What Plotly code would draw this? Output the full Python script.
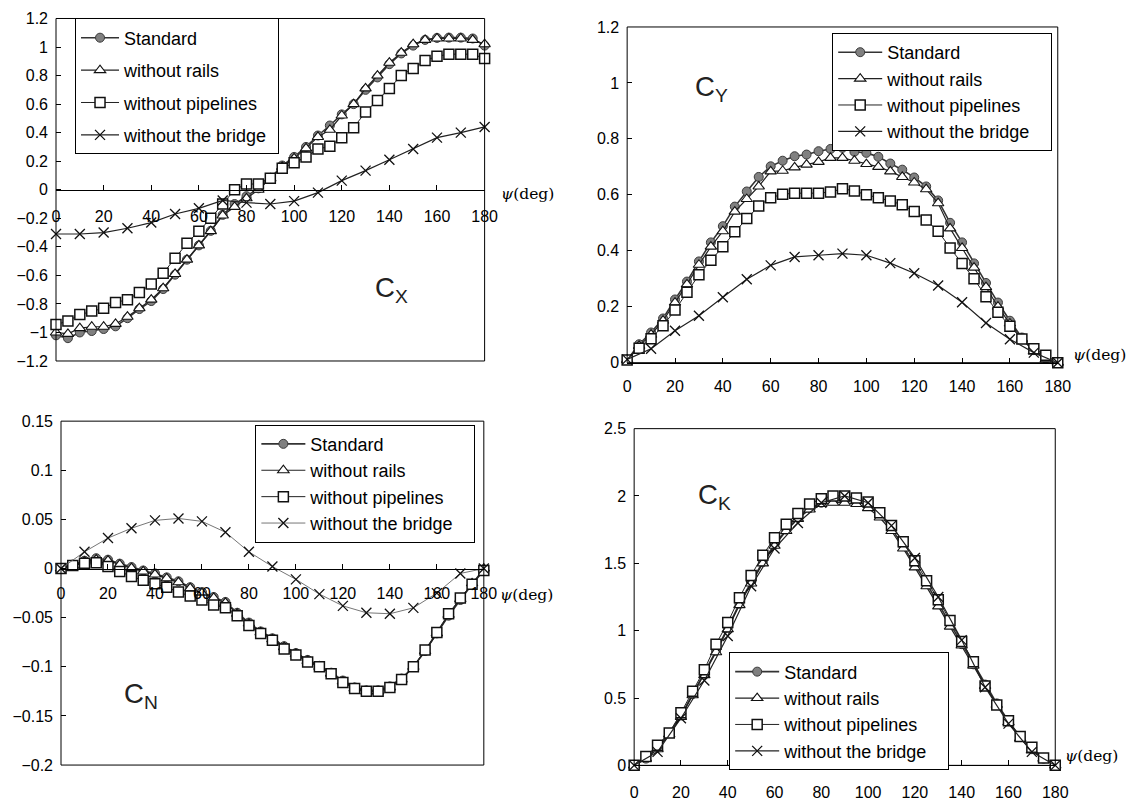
import plotly.graph_objects as go

# ---------------- data ----------------
PSI_5 = [0, 5, 10, 15, 20, 25, 30, 35, 40, 45, 50, 55, 60, 65, 70, 75, 80, 85, 90,
         95, 100, 105, 110, 115, 120, 125, 130, 135, 140, 145, 150, 155, 160, 165, 170, 175, 180]
PSI_10 = [0, 10, 20, 30, 40, 50, 60, 70, 80, 90, 100, 110, 120, 130, 140, 150, 160, 170, 180]

SERIES = ["Standard", "without rails", "without pipelines", "without the bridge"]

# C_X
CX_STD = [-1.02, -1.04, -1.0, -0.99, -0.976, -0.957, -0.9, -0.836, -0.78, -0.696, -0.595, -0.49, -0.39,
          -0.288, -0.176, -0.1, -0.045, 0.01, 0.08, 0.17, 0.23, 0.3, 0.38, 0.45, 0.528, 0.6, 0.7, 0.787,
          0.88, 0.955, 1.01, 1.05, 1.064, 1.066, 1.066, 1.06, 1.01]
CX_RAILS = [-1.0, -1.01, -0.97, -0.96, -0.96, -0.94, -0.89, -0.83, -0.77, -0.69, -0.59, -0.49, -0.39,
            -0.29, -0.18, -0.12, -0.06, 0.0, 0.08, 0.16, 0.22, 0.29, 0.37, 0.42, 0.52, 0.6, 0.71, 0.8,
            0.89, 0.96, 1.02, 1.05, 1.06, 1.06, 1.06, 1.05, 1.02]
CX_PIPES = [-0.945, -0.92, -0.875, -0.85, -0.83, -0.79, -0.77, -0.72, -0.66, -0.585, -0.48, -0.375, -0.29,
            -0.2, -0.1, 0.0, 0.04, 0.04, 0.08, 0.15, 0.19, 0.23, 0.285, 0.305, 0.365, 0.435, 0.545, 0.625,
            0.71, 0.8, 0.85, 0.905, 0.935, 0.95, 0.95, 0.95, 0.92]
CX_BRIDGE = [-0.31, -0.31, -0.30, -0.27, -0.23, -0.17, -0.13, -0.075, -0.09, -0.1, -0.08, -0.02, 0.064,
             0.134, 0.21, 0.285, 0.365, 0.40, 0.44]

# C_Y
CY_STD = [0.01, 0.066, 0.108, 0.158, 0.226, 0.29, 0.362, 0.43, 0.488, 0.558, 0.612, 0.664, 0.702, 0.722,
          0.738, 0.744, 0.756, 0.764, 0.768, 0.754, 0.75, 0.736, 0.712, 0.69, 0.662, 0.63, 0.58, 0.5,
          0.43, 0.355, 0.285, 0.215, 0.15, 0.09, 0.045, 0.015, 0.0]
CY_RAILS = [0.01, 0.06, 0.1, 0.15, 0.215, 0.28, 0.35, 0.415, 0.47, 0.54, 0.585, 0.63, 0.684, 0.686,
            0.698, 0.708, 0.718, 0.732, 0.732, 0.722, 0.71, 0.70, 0.684, 0.664, 0.644, 0.62, 0.57, 0.48,
            0.41, 0.34, 0.27, 0.2, 0.14, 0.085, 0.04, 0.012, 0.0]
CY_PIPES = [0.01, 0.052, 0.086, 0.132, 0.188, 0.252, 0.314, 0.366, 0.414, 0.468, 0.515, 0.56, 0.59, 0.602,
            0.606, 0.606, 0.606, 0.61, 0.622, 0.614, 0.6, 0.59, 0.578, 0.565, 0.54, 0.51, 0.47, 0.41,
            0.355, 0.3, 0.236, 0.18, 0.13, 0.085, 0.05, 0.027, 0.0]
CY_BRIDGE = [0.012, 0.05, 0.114, 0.168, 0.234, 0.298, 0.348, 0.378, 0.384, 0.39, 0.384, 0.356, 0.32,
             0.276, 0.216, 0.142, 0.084, 0.036, 0.0]

# C_N
CN_STD = [0.0, 0.004, 0.008, 0.0105, 0.009, 0.005, 0.0015, -0.002, -0.005, -0.009, -0.013, -0.019, -0.024,
          -0.029, -0.034, -0.045, -0.055, -0.064, -0.071, -0.079, -0.086, -0.093, -0.099, -0.106, -0.114,
          -0.121, -0.124, -0.124, -0.12, -0.112, -0.1, -0.084, -0.066, -0.048, -0.032, -0.016, -0.002]
CN_RAILS = [0.0, 0.003, 0.007, 0.009, 0.008, 0.004, 0.0005, -0.003, -0.006, -0.01, -0.014, -0.02, -0.025,
            -0.03, -0.035, -0.046, -0.056, -0.065, -0.072, -0.08, -0.087, -0.094, -0.1, -0.107, -0.115,
            -0.122, -0.125, -0.125, -0.121, -0.113, -0.1, -0.084, -0.066, -0.047, -0.031, -0.015, 0.0]
CN_PIPES = [0.0, 0.003, 0.0055, 0.006, 0.002, -0.003, -0.008, -0.012, -0.0155, -0.019, -0.024, -0.028,
            -0.032, -0.037, -0.040, -0.048, -0.058, -0.066, -0.073, -0.082, -0.088, -0.095, -0.1, -0.107,
            -0.116, -0.122, -0.125, -0.125, -0.121, -0.113, -0.1, -0.083, -0.065, -0.046, -0.03, -0.016,
            -0.002]
CN_BRIDGE = [0.0, 0.017, 0.031, 0.041, 0.049, 0.051, 0.048, 0.037, 0.017, 0.002, -0.011, -0.026, -0.038,
             -0.045, -0.046, -0.04, -0.025, -0.005, 0.0]

# C_K
CK_STD = [0.0, 0.05, 0.13, 0.24, 0.37, 0.53, 0.68, 0.85, 1.02, 1.2, 1.36, 1.51, 1.64, 1.75, 1.84, 1.91,
          1.95, 1.97, 1.97, 1.96, 1.93, 1.86, 1.76, 1.63, 1.49, 1.35, 1.2, 1.05, 0.9, 0.75, 0.6, 0.46,
          0.33, 0.21, 0.12, 0.05, 0.0]
CK_RAILS = [0.0, 0.05, 0.12, 0.23, 0.36, 0.52, 0.67, 0.84, 1.01, 1.19, 1.35, 1.5, 1.63, 1.74, 1.83, 1.9,
            1.94, 1.95, 1.95, 1.94, 1.91, 1.84, 1.74, 1.61, 1.47, 1.33, 1.18, 1.03, 0.89, 0.74, 0.59,
            0.45, 0.32, 0.2, 0.11, 0.05, 0.0]
CK_PIPES = [0.0, 0.065, 0.15, 0.24, 0.39, 0.55, 0.71, 0.9, 1.06, 1.245, 1.41, 1.56, 1.69, 1.79, 1.87,
            1.94, 1.98, 2.0, 2.0, 1.985, 1.955, 1.875, 1.78, 1.66, 1.52, 1.37, 1.23, 1.075, 0.92, 0.77,
            0.59, 0.448, 0.332, 0.215, 0.134, 0.055, 0.0]
CK_BRIDGE = [0.0, 0.1, 0.35, 0.63, 0.96, 1.33, 1.61, 1.8, 1.95, 2.0, 1.95, 1.78, 1.54, 1.25, 0.93, 0.58,
             0.31, 0.1, 0.0]

# tick labels
X_TICKS = [0, 20, 40, 60, 80, 100, 120, 140, 160, 180]
X_TICKTEXT = ["0", "20", "40", "60", "80", "100", "120", "140", "160", "180"]
CX_YTICKS = [-1.2, -1.0, -0.8, -0.6, -0.4, -0.2, 0, 0.2, 0.4, 0.6, 0.8, 1.0, 1.2]
CX_YTEXT = ["−1.2", "−1", "−0.8", "−0.6", "−0.4", "−0.2", "0", "0.2", "0.4", "0.6", "0.8", "1", "1.2"]
CY_YTICKS = [0, 0.2, 0.4, 0.6, 0.8, 1.0, 1.2]
CY_YTEXT = ["0", "0.2", "0.4", "0.6", "0.8", "1", "1.2"]
CN_YTICKS = [-0.2, -0.15, -0.1, -0.05, 0, 0.05, 0.1, 0.15]
CN_YTEXT = ["−0.2", "−0.15", "−0.1", "−0.05", "0", "0.05", "0.1", "0.15"]
CK_YTICKS = [0, 0.5, 1.0, 1.5, 2.0, 2.5]
CK_YTEXT = ["0", "0.5", "1", "1.5", "2", "2.5"]

# ---------------- figure ----------------
W, H = 1152, 816
SX, OX = 0.985, 3.0     # screen = SX * page + OX (measured)
SY, OY = 0.98, 5.0
FONT = "Liberation Sans, Arial, sans-serif"


def px_x(s):
    return ((s - OX) / SX) / W


def px_y(s):
    return 1 - ((s - OY) / SY) / H


STYLES = [
    dict(marker=dict(symbol="circle", size=9, color="#808080", line=dict(color="#3a3a3a", width=1)),
         line=dict(color="#333333", width=1.6)),
    dict(marker=dict(symbol="triangle-up", size=10, color="white", line=dict(color="#111111", width=1.1)),
         line=dict(color="#222222", width=1.2)),
    dict(marker=dict(symbol="square", size=10, color="white", line=dict(color="#111111", width=1.5)),
         line=dict(color="#222222", width=1.0)),
    dict(marker=dict(symbol="x-thin", size=10, color="#111111", line=dict(color="#111111", width=1.3)),
         line=dict(color="#222222", width=1.2)),
]

panels = [
    ("cx", "x", "y", "legend", [CX_STD, CX_RAILS, CX_PIPES, CX_BRIDGE]),
    ("cy", "x2", "y2", "legend2", [CY_STD, CY_RAILS, CY_PIPES, CY_BRIDGE]),
    ("cn", "x3", "y3", "legend3", [CN_STD, CN_RAILS, CN_PIPES, CN_BRIDGE]),
    ("ck", "x4", "y4", "legend4", [CK_STD, CK_RAILS, CK_PIPES, CK_BRIDGE]),
]
PAD = {"cx": "\u00a0", "cy": "\u00a0\u00a0\u00a0", "cn": "\u00a0\u00a0\u00a0", "ck": "\u00a0\u00a0\u00a0"}

fig = go.Figure()
for key, xa, ya, lg, data in panels:
    for i, (name, vals) in enumerate(zip(SERIES, data)):
        xs = PSI_10 if i == 3 else PSI_5
        st = STYLES[i]
        line = dict(st["line"])
        if key == "cn" and i == 3:
            line = dict(color="#666666", width=0.9)
        fig.add_trace(go.Scatter(
            x=xs, y=vals, name=name + PAD[key], mode="lines+markers",
            xaxis=xa, yaxis=ya, legend=lg, legendgroup=f"{key}{i}",
            marker=st["marker"], line=line, cliponaxis=False,
            showlegend=True,
        ))

tickfont = dict(family=FONT, size=16, color="black")

common_x = dict(range=[0, 180], tickmode="array", tickvals=X_TICKS, ticktext=X_TICKTEXT,
                ticks="inside", ticklen=5, tickcolor="black", showgrid=False, zeroline=False,
                tickfont=tickfont, showline=True, linecolor="black", linewidth=1)
common_y = dict(tickmode="array", ticks="inside", ticklen=5, tickcolor="black", showgrid=False,
                zeroline=False, tickfont=tickfont, showline=False, ticklabelstandoff=7)

# screen positions of the plot areas in the reference
G = {
    "cx": dict(x0=55, x1=483.5, ytop=15.5, ybot=358.3),
    "cy": dict(x0=626, x1=1056.5, ytop=24, ybot=360),
    "cn": dict(x0=60, x1=482.7, ytop=418.5, ybot=762.7),
    "ck": dict(x0=633, x1=1054, ytop=426, ybot=763),
}

fig.update_layout(
    xaxis=dict(common_x, domain=[px_x(G["cx"]["x0"]), px_x(G["cx"]["x1"])], anchor="free",
               position=px_y(186.9), ticklabelstandoff=12),
    yaxis=dict(common_y, domain=[px_y(G["cx"]["ybot"]), px_y(G["cx"]["ytop"])], range=[-1.2, 1.2],
               tickvals=CX_YTICKS, ticktext=CX_YTEXT, anchor="x"),
    xaxis2=dict(common_x, domain=[px_x(G["cy"]["x0"]), px_x(G["cy"]["x1"])], anchor="y2",
                ticklabelstandoff=9),
    yaxis2=dict(common_y, domain=[px_y(G["cy"]["ybot"]), px_y(G["cy"]["ytop"])], range=[0, 1.2],
                tickvals=CY_YTICKS, ticktext=CY_YTEXT, anchor="x2"),
    xaxis3=dict(common_x, domain=[px_x(G["cn"]["x0"]), px_x(G["cn"]["x1"])], anchor="free",
                position=px_y(566.4), ticklabelstandoff=10),
    yaxis3=dict(common_y, domain=[px_y(G["cn"]["ybot"]), px_y(G["cn"]["ytop"])], range=[-0.2, 0.15],
                tickvals=CN_YTICKS, ticktext=CN_YTEXT, anchor="x3"),
    xaxis4=dict(common_x, domain=[px_x(G["ck"]["x0"]), px_x(G["ck"]["x1"])], anchor="y4",
                ticklabelstandoff=12),
    yaxis4=dict(common_y, domain=[px_y(G["ck"]["ybot"]), px_y(G["ck"]["ytop"])], range=[0, 2.5],
                tickvals=CK_YTICKS, ticktext=CK_YTEXT, anchor="x4"),
)

legend_common = dict(bgcolor="white", bordercolor="black", borderwidth=1, xanchor="left", yanchor="top",
                     font=dict(family=FONT, size=18, color="black"), itemclick=False,
                     itemdoubleclick=False)
fig.update_layout(
    legend=dict(legend_common, x=px_x(74), y=px_y(15.5), tracegroupgap=6, itemwidth=38),
    legend2=dict(legend_common, x=px_x(831), y=px_y(30), tracegroupgap=0, itemwidth=44),
    legend3=dict(legend_common, x=px_x(254.3), y=px_y(422), tracegroupgap=0, itemwidth=44),
    legend4=dict(legend_common, x=px_x(728), y=px_y(650), tracegroupgap=0, itemwidth=44),
)

shapes = []
for key, xa, ya, lg, data in panels:
    shapes.append(dict(type="rect", xref=f"{xa} domain", yref=f"{ya} domain", x0=0, x1=1, y0=0, y1=1,
                       line=dict(color="black", width=1), fillcolor="rgba(0,0,0,0)", layer="above"))
fig.update_layout(shapes=shapes)

ann_font = dict(family=FONT, size=27.5, color="#222222")
unit_font = dict(family="DejaVu Serif, serif", size=15.5, color="black")
annotations = [
    dict(text="C<sub>X</sub>", x=px_x(372), y=px_y(287), xanchor="left", yanchor="middle"),
    dict(text="C<sub>Y</sub>", x=px_x(692), y=px_y(86), xanchor="left", yanchor="middle"),
    dict(text="C<sub>N</sub>", x=px_x(121), y=px_y(693), xanchor="left", yanchor="middle"),
    dict(text="C<sub>K</sub>", x=px_x(695), y=px_y(494), xanchor="left", yanchor="middle"),
]
for a in annotations:
    a.update(xref="paper", yref="paper", showarrow=False, font=ann_font)
units = [
    dict(x=px_x(498), y=px_y(191)),
    dict(x=px_x(1070), y=px_y(352)),
    dict(x=px_x(497), y=px_y(592.5)),
    dict(x=px_x(1062), y=px_y(754)),
]
for u in units:
    u.update(text="<i>ψ</i>(deg)", xref="paper", yref="paper", showarrow=False, xanchor="left",
             yanchor="middle", font=unit_font)
fig.update_layout(annotations=annotations + units)

fig.update_layout(
    width=W, height=H, autosize=False,
    margin=dict(l=0, r=0, t=0, b=0),
    paper_bgcolor="white", plot_bgcolor="white",
    font=dict(family=FONT, size=15, color="black"),
)

fig.write_html(
    "out.html",
    config={"displayModeBar": False},
    post_script="document.body.style.margin='0';document.body.style.padding='0';",
)
